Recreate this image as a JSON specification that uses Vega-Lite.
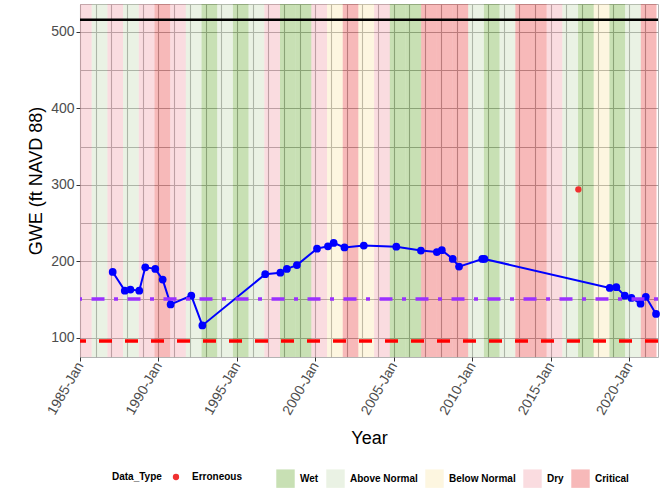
{
  "$schema": "https://vega.github.io/schema/vega-lite/v6.json",
  "width": 578,
  "height": 353,
  "autosize": "none",
  "padding": {"left": 80, "top": 4, "right": 9, "bottom": 135},
  "datasets": {
    "wy": [
      {"wy": 1985, "start": "1984-10-01", "end": "1985-10-01", "Type": "Dry"},
      {"wy": 1986, "start": "1985-10-01", "end": "1986-10-01", "Type": "Above Normal"},
      {"wy": 1987, "start": "1986-10-01", "end": "1987-10-01", "Type": "Dry"},
      {"wy": 1988, "start": "1987-10-01", "end": "1988-10-01", "Type": "Above Normal"},
      {"wy": 1989, "start": "1988-10-01", "end": "1989-10-01", "Type": "Dry"},
      {"wy": 1990, "start": "1989-10-01", "end": "1990-10-01", "Type": "Critical"},
      {"wy": 1991, "start": "1990-10-01", "end": "1991-10-01", "Type": "Dry"},
      {"wy": 1992, "start": "1991-10-01", "end": "1992-10-01", "Type": "Above Normal"},
      {"wy": 1993, "start": "1992-10-01", "end": "1993-10-01", "Type": "Wet"},
      {"wy": 1994, "start": "1993-10-01", "end": "1994-10-01", "Type": "Above Normal"},
      {"wy": 1995, "start": "1994-10-01", "end": "1995-10-01", "Type": "Wet"},
      {"wy": 1996, "start": "1995-10-01", "end": "1996-10-01", "Type": "Above Normal"},
      {"wy": 1997, "start": "1996-10-01", "end": "1997-10-01", "Type": "Dry"},
      {"wy": 1998, "start": "1997-10-01", "end": "1998-10-01", "Type": "Wet"},
      {"wy": 1999, "start": "1998-10-01", "end": "1999-10-01", "Type": "Wet"},
      {"wy": 2000, "start": "1999-10-01", "end": "2000-10-01", "Type": "Dry"},
      {"wy": 2001, "start": "2000-10-01", "end": "2001-10-01", "Type": "Below Normal"},
      {"wy": 2002, "start": "2001-10-01", "end": "2002-10-01", "Type": "Critical"},
      {"wy": 2003, "start": "2002-10-01", "end": "2003-10-01", "Type": "Below Normal"},
      {"wy": 2004, "start": "2003-10-01", "end": "2004-10-01", "Type": "Dry"},
      {"wy": 2005, "start": "2004-10-01", "end": "2005-10-01", "Type": "Wet"},
      {"wy": 2006, "start": "2005-10-01", "end": "2006-10-01", "Type": "Wet"},
      {"wy": 2007, "start": "2006-10-01", "end": "2007-10-01", "Type": "Critical"},
      {"wy": 2008, "start": "2007-10-01", "end": "2008-10-01", "Type": "Critical"},
      {"wy": 2009, "start": "2008-10-01", "end": "2009-10-01", "Type": "Critical"},
      {"wy": 2010, "start": "2009-10-01", "end": "2010-10-01", "Type": "Above Normal"},
      {"wy": 2011, "start": "2010-10-01", "end": "2011-10-01", "Type": "Wet"},
      {"wy": 2012, "start": "2011-10-01", "end": "2012-10-01", "Type": "Above Normal"},
      {"wy": 2013, "start": "2012-10-01", "end": "2013-10-01", "Type": "Critical"},
      {"wy": 2014, "start": "2013-10-01", "end": "2014-10-01", "Type": "Critical"},
      {"wy": 2015, "start": "2014-10-01", "end": "2015-10-01", "Type": "Dry"},
      {"wy": 2016, "start": "2015-10-01", "end": "2016-10-01", "Type": "Above Normal"},
      {"wy": 2017, "start": "2016-10-01", "end": "2017-10-01", "Type": "Wet"},
      {"wy": 2018, "start": "2017-10-01", "end": "2018-10-01", "Type": "Below Normal"},
      {"wy": 2019, "start": "2018-10-01", "end": "2019-10-01", "Type": "Wet"},
      {"wy": 2020, "start": "2019-10-01", "end": "2020-10-01", "Type": "Above Normal"},
      {"wy": 2021, "start": "2020-10-01", "end": "2021-10-01", "Type": "Critical"}
    ],
    "gwe": [
      {"date": "1987-02-01", "gwe": 186},
      {"date": "1987-11-10", "gwe": 161.5},
      {"date": "1988-03-20", "gwe": 163},
      {"date": "1988-10-12", "gwe": 161.5},
      {"date": "1989-03-01", "gwe": 192},
      {"date": "1989-10-20", "gwe": 190},
      {"date": "1990-04-10", "gwe": 176},
      {"date": "1990-10-12", "gwe": 143.5},
      {"date": "1992-02-05", "gwe": 155},
      {"date": "1992-10-20", "gwe": 116},
      {"date": "1996-10-22", "gwe": 183},
      {"date": "1997-10-10", "gwe": 185},
      {"date": "1998-03-10", "gwe": 190},
      {"date": "1998-10-30", "gwe": 195},
      {"date": "2000-02-10", "gwe": 216.5},
      {"date": "2000-10-22", "gwe": 219.5},
      {"date": "2001-03-03", "gwe": 224},
      {"date": "2001-11-10", "gwe": 218},
      {"date": "2003-02-03", "gwe": 220.5},
      {"date": "2005-03-01", "gwe": 219},
      {"date": "2006-09-25", "gwe": 214},
      {"date": "2007-10-01", "gwe": 212},
      {"date": "2008-01-25", "gwe": 214.5},
      {"date": "2008-10-05", "gwe": 203},
      {"date": "2009-03-01", "gwe": 193},
      {"date": "2010-08-25", "gwe": 203},
      {"date": "2010-10-12", "gwe": 203},
      {"date": "2018-10-08", "gwe": 165},
      {"date": "2019-03-10", "gwe": 166},
      {"date": "2019-09-24", "gwe": 155},
      {"date": "2020-02-25", "gwe": 152},
      {"date": "2020-09-24", "gwe": 144.5},
      {"date": "2021-01-25", "gwe": 153.5},
      {"date": "2021-09-20", "gwe": 131}
    ],
    "err": [
      {"date": "2016-10-08", "gwe": 294, "Data_Type": "Erroneous"}
    ]
  },
  "layer": [
    {
      "data": {"name": "wy"},
      "mark": {"type": "rect", "clip": true, "opacity": 0.3},
      "encoding": {
        "x": {
          "field": "start", "type": "temporal", "title": "Year",
          "scale": {"type": "utc", "domain": [{"year": 1985, "month": 1, "date": 1, "utc": true}, {"year": 2021, "month": 11, "date": 5, "utc": true}], "nice": false},
          "axis": {
            "tickCount": {"interval": "year", "step": 1},
            "labelExpr": "utcyear(datum.value) % 5 === 0 ? utcFormat(datum.value, '%Y-%b') : ''",
            "tickColor": {"condition": {"test": "utcyear(datum.value) % 5 === 0", "value": "#333333"}, "value": "transparent"},
            "labelAngle": -60,
            "labelOverlap": false,
            "labelFlush": false,
            "labelPadding": 2,
            "tickSize": 4,
            "titlePadding": 12
          }
        },
        "x2": {"field": "end"},
        "fill": {
          "field": "Type", "type": "nominal",
          "scale": {
            "domain": ["Wet", "Above Normal", "Below Normal", "Dry", "Critical"],
            "range": ["#489805", "#b9d4a5", "#f8e198", "#ee8a98", "#e41616"]
          },
          "legend": {
            "title": null,
            "orient": "none",
            "legendX": 196,
            "legendY": 465,
            "direction": "horizontal",
            "symbolType": "square",
            "symbolSize": 340,
            "symbolOpacity": 0.3,
            "symbolStrokeWidth": 0,
            "labelOffset": 5,
            "columnPadding": 7
          }
        }
      }
    },
    {
      "data": {"name": "gwe"},
      "mark": {"type": "line", "color": "#0000ff", "strokeWidth": 2, "point": {"filled": true, "size": 60, "color": "#0000ff", "opacity": 1}},
      "encoding": {
        "x": {"field": "date", "type": "temporal", "title": "Year"},
        "y": {
          "field": "gwe", "type": "quantitative", "title": "GWE (ft NAVD 88)",
          "scale": {"domain": [74.7, 536.6], "nice": false, "zero": false},
          "axis": {
            "values": [100, 150, 200, 250, 300, 350, 400, 450, 500],
            "labelExpr": "datum.value % 100 === 0 ? datum.label : ''",
            "tickColor": {"condition": {"test": "datum.value % 100 === 0", "value": "#333333"}, "value": "transparent"},
            "tickSize": 4,
            "labelPadding": 2,
            "titlePadding": 5
          }
        }
      }
    },
    {
      "data": {"name": "err"},
      "mark": {"type": "circle", "size": 40, "opacity": 1},
      "encoding": {
        "x": {"field": "date", "type": "temporal", "title": "Year"},
        "y": {"field": "gwe", "type": "quantitative", "title": "GWE (ft NAVD 88)"},
        "color": {
          "field": "Data_Type", "type": "nominal",
          "scale": {"domain": ["Erroneous"], "range": ["#f03030"]},
          "legend": {
            "title": "Data_Type",
            "orient": "none",
            "legendX": 32,
            "legendY": 468,
            "direction": "horizontal",
            "titleOrient": "left",
            "titlePadding": 9,
            "symbolType": "circle",
            "symbolSize": 40,
            "labelOffset": 11
          }
        }
      }
    },
    {
      "data": {"values": [{"level": 516}]},
      "mark": {"type": "rule", "color": "#000000", "strokeWidth": 2.5},
      "encoding": {"y": {"field": "level", "type": "quantitative", "title": "GWE (ft NAVD 88)"}}
    },
    {
      "data": {"values": [{"level": 150.5}]},
      "mark": {"type": "rule", "color": "#9b30ff", "strokeWidth": 3.5, "strokeDash": [4, 9.5, 13, 9.5]},
      "encoding": {"y": {"field": "level", "type": "quantitative", "title": "GWE (ft NAVD 88)"}}
    },
    {
      "data": {"values": [{"level": 95.5}]},
      "mark": {"type": "rule", "color": "#ff0000", "strokeWidth": 3.5, "strokeDash": [13, 13]},
      "encoding": {"y": {"field": "level", "type": "quantitative", "title": "GWE (ft NAVD 88)"}}
    }
  ],
  "config": {
    "font": "Liberation Sans",
    "view": {"stroke": "#b3b3b3", "fill": "white"},
    "axis": {
      "grid": true,
      "gridColor": "#a8a8a8",
      "gridWidth": 1.1,
      "domain": false,
      "labelColor": "#4d4d4d",
      "labelFontSize": 14,
      "titleFontSize": 18,
      "titleFontWeight": "normal",
      "titleColor": "#000000"
    },
    "legend": {
      "labelFontSize": 10,
      "labelFontWeight": "bold",
      "labelColor": "#000000",
      "titleFontSize": 10,
      "titleFontWeight": "bold",
      "titleColor": "#000000"
    }
  }
}
